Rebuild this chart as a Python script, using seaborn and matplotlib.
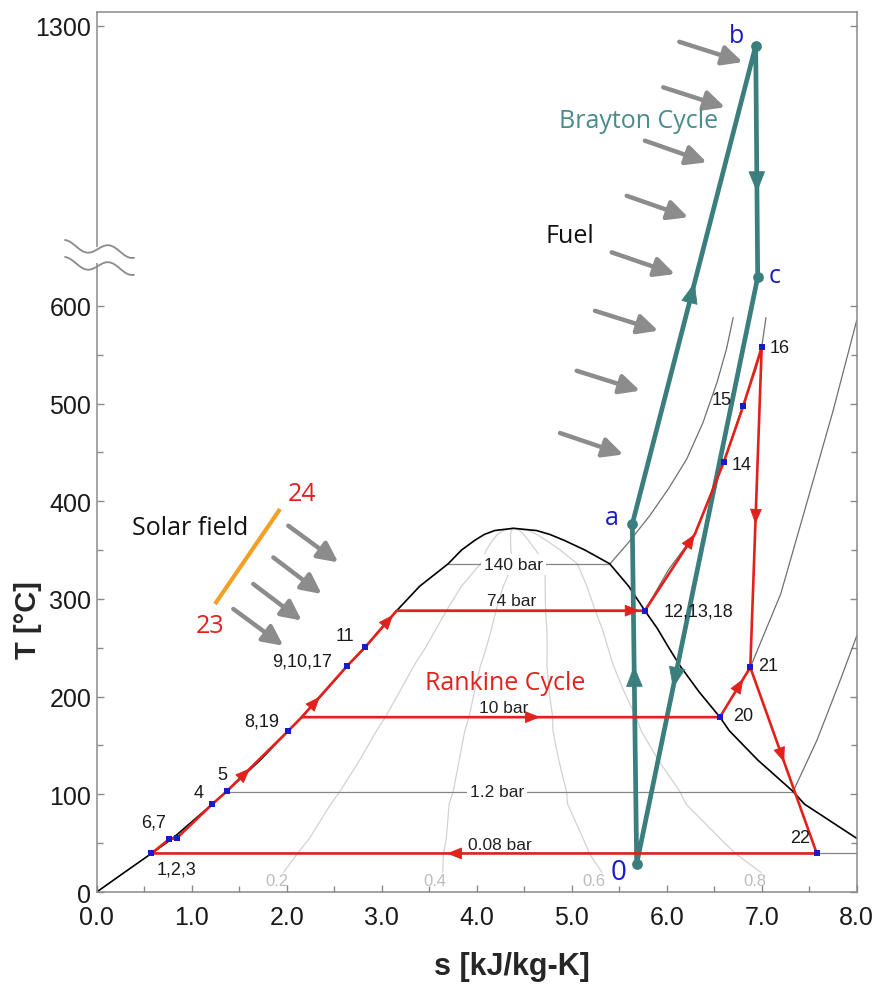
import numpy as np
import matplotlib
matplotlib.use("Agg")
import matplotlib.pyplot as plt
import seaborn as sns

# -----------------------------
# Data (s in kJ/kg-K, T in degC)
# -----------------------------
SAT_T = [0, 20, 39.5, 55, 90, 103, 135, 165, 179, 205, 231.6, 250.4, 270, 288, 313, 336, 350, 360, 366, 370, 372.3]
SAT_SF = [0.0, 0.29, 0.576, 0.80, 1.217, 1.368, 1.72, 2.017, 2.158, 2.40, 2.638, 2.824, 2.996, 3.158, 3.40, 3.70, 3.84, 3.98, 4.08, 4.19, 4.386]
SAT_SG = [9.16, 8.67, 8.26, 8.0, 7.45, 7.33, 6.96, 6.66, 6.56, 6.34, 6.14, 6.02, 5.90, 5.77, 5.60, 5.40, 5.14, 4.92, 4.77, 4.63, 4.386]

QUALITY = [0.2, 0.4, 0.6, 0.8]
QUALITY_LABEL_S = [1.895, 3.56, 5.23, 6.93]

ISO_NAMES = ["140 bar", "74 bar", "10 bar", "1.2 bar", "0.08 bar"]
ISO_T = [335.5, 288, 179, 102.7, 39.5]
ISO_SF = [3.70, 3.158, 2.158, 1.368, 0.576]
ISO_SG = [5.40, 5.77, 6.56, 7.33, 8.26]
ISO_LABEL_S = [4.386, 4.368, 4.28, 4.21, 4.245]
ISO_LABEL_T = [335.5, 298, 189, 102.7, 49]
ISO_INLINE = [True, False, False, True, False]

# superheated isobars
SH_140_S = [5.40, 5.60, 5.82, 6.02, 6.21, 6.38, 6.53, 6.63, 6.70]
SH_140_T = [335.5, 358, 385, 413, 443, 480, 521.7, 556, 588]
SH_74_S = [5.77, 6.02, 6.297, 6.60, 6.80, 6.94, 7.00, 7.045]
SH_74_T = [288, 330, 366.4, 439.8, 497.7, 535, 557.5, 588]
SH_10_S = [6.56, 6.88, 7.20, 7.48, 7.75, 8.0]
SH_10_T = [179, 230, 305, 400, 492, 585]
SH_12_S = [7.33, 7.58, 7.82, 8.0]
SH_12_T = [102.7, 155, 215, 262]

# Rankine cycle path
RK_S = [0.576, 0.764, 0.842, 1.217, 1.368, 2.017, 2.158, 2.638, 2.824, 3.158, 5.77, 6.297, 6.60, 6.807, 7.0, 6.88, 7.58, 0.576]
RK_T = [39.5, 54.2, 55, 90, 103, 165, 179, 231.6, 250.4, 288, 288, 366.4, 439.8, 497.7, 557.5, 230, 39.5, 39.5]
RK_ARROWS = [(4, 0.38), (6, 0.40), (8, 0.886), (9, 0.98), (10, 1.0), (14, 0.552), (15, 0.51), (16, 0.556)]
RK10_S = [2.158, 6.56, 6.88]
RK10_T = [179, 179, 230]
RK10_ARROWS = [(0, 0.57), (1, 0.77)]

MARK_S = [0.576, 0.764, 0.842, 1.217, 1.368, 2.017, 2.638, 2.824, 5.77, 6.60, 6.807, 7.0, 6.56, 6.88, 7.58]
MARK_T = [39.5, 54.2, 55, 90, 103, 165, 231.6, 250.4, 288, 439.8, 497.7, 557.5, 179, 230, 39.5]

STATE_NAMES = ["1,2,3", "6,7", "4", "5", "8,19", "9,10,17", "11", "12,13,18", "14", "15", "16", "20", "21", "22"]
STATE_LABEL_S = [0.842, 0.596, 1.07, 1.32, 1.737, 2.158, 2.61, 6.33, 6.79, 6.58, 7.19, 6.81, 7.07, 7.40]
STATE_LABEL_T = [23.5, 71.3, 102, 120.8, 175.3, 236.7, 262.3, 288, 438, 504.6, 557.5, 181, 231.6, 56]

# Brayton cycle
BR_NAMES = ["0", "a", "b", "c"]
BR_S = [5.684, 5.638, 6.937, 6.958]
BR_T = [28.7, 376.7, 1244, 629.2]
BR_LABEL_S = [5.49, 5.427, 6.737, 7.14]
BR_LABEL_T = [20, 383, 1272, 631]
BR_ARROW_FRAC = [0.583, 0.505, 0.633, 0.70]

# heat input arrows
FUEL_S0 = [6.133, 5.964, 5.771, 5.579, 5.421, 5.245, 5.053, 4.877]
FUEL_T0 = [1255, 1127, 977, 822, 663, 594.9, 533.5, 469.8]
FUEL_S1 = [6.80, 6.614, 6.421, 6.227, 6.087, 5.911, 5.719, 5.543]
FUEL_T1 = [1198, 1071, 916, 761.5, 632.5, 574.5, 513.1, 447.8]

SUN_S0 = [2.017, 1.859, 1.648, 1.438]
SUN_T0 = [374.9, 342.5, 315.3, 289.7]
SUN_S1 = [2.543, 2.368, 2.158, 1.964]
SUN_T1 = [337.4, 305.0, 277.8, 252.1]

SOLAR_S = [1.245, 1.93]
SOLAR_T = [294.8, 392]

RED = "#e3211c"
TEAL = "#3b7e7e"
BLUE = "#1a1acb"
ARROW_GRAY = "#8c8c8c"
ORANGE = "#f2a027"

# -----------------------------
# Broken temperature axis (above 650 degC compressed)
# -----------------------------
T_BREAK = 650.0
K = 0.364


def fwd(t):
    t = np.asarray(t, dtype=float)
    return np.where(t <= T_BREAK, t, T_BREAK + (t - T_BREAK) * K)


def inv(d):
    d = np.asarray(d, dtype=float)
    return np.where(d <= T_BREAK, d, T_BREAK + (d - T_BREAK) / K)


sns.set_style("ticks")
plt.rcParams["font.family"] = ["Liberation Sans", "DejaVu Sans"]

fig, ax = plt.subplots(figsize=(8.8, 9.87), dpi=100)
fig.subplots_adjust(left=0.1099, right=0.9735, bottom=0.0952, top=0.9865)
ax.set_yscale("function", functions=(fwd, inv))


def seg_head(s0, t0, s1, t1, frac, color, size, hl, hw, z):
    d0, d1 = float(fwd(t0)), float(fwd(t1))
    sm = s0 + frac * (s1 - s0)
    dm = d0 + frac * (d1 - d0)
    sb = sm - 0.02 * (s1 - s0)
    db = dm - 0.02 * (d1 - d0)
    ax.annotate("", xy=(sm, float(inv(dm))), xytext=(sb, float(inv(db))),
                arrowprops=dict(arrowstyle=f"-|>,head_length={hl},head_width={hw}",
                                fc=color, ec=color, lw=0.6, shrinkA=0, shrinkB=0,
                                mutation_scale=size), zorder=z)


# -----------------------------
# Quality lines and dome
# -----------------------------
sat_t = np.array(SAT_T)
sf = np.array(SAT_SF)
sg = np.array(SAT_SG)
rows = sat_t >= 20
for q, ls in zip(QUALITY, QUALITY_LABEL_S):
    sq = sf[rows] + q * (sg[rows] - sf[rows])
    ax.plot(sq, sat_t[rows], color="#d2d2d2", lw=0.9, zorder=1)
    ax.text(ls, 12, f"{q:.1f}", color="#bdbdbd", fontsize=12, ha="center", va="center", zorder=1)

dome_s = list(SAT_SF) + list(SAT_SG[::-1])
dome_t = list(SAT_T) + list(SAT_T[::-1])
sns.lineplot(x=dome_s, y=dome_t, sort=False, estimator=None, color="black", linewidth=1.2, ax=ax, zorder=2)

# -----------------------------
# Isobars
# -----------------------------
for name, t, s0, s1, lx, ly, inline in zip(ISO_NAMES, ISO_T, ISO_SF, ISO_SG, ISO_LABEL_S, ISO_LABEL_T, ISO_INLINE):
    ax.plot([s0, s1], [t, t], color="#858585", lw=0.9, zorder=1.5)
    box = dict(facecolor="white", edgecolor="none", pad=2) if inline else None
    ax.text(lx, ly, name, fontsize=12.5, color="#222222", ha="center", va="center", bbox=box, zorder=2.5)

for xs, ys in [(SH_140_S, SH_140_T), (SH_74_S, SH_74_T), (SH_10_S, SH_10_T), (SH_12_S, SH_12_T)]:
    ax.plot(xs, ys, color="#707070", lw=0.9, zorder=1.5)

# -----------------------------
# Brayton cycle
# -----------------------------
br_s = BR_S + BR_S[:1]
br_t = BR_T + BR_T[:1]
sns.lineplot(x=br_s, y=br_t, sort=False, estimator=None, color=TEAL, linewidth=3.4, ax=ax, zorder=3)
ax.scatter(BR_S, BR_T, s=45, color=TEAL, zorder=3.5)
for i, frac in enumerate(BR_ARROW_FRAC):
    seg_head(br_s[i], br_t[i], br_s[i + 1], br_t[i + 1], frac, TEAL, 20, 0.7, 0.28, 3.6)
for name, x, y in zip(BR_NAMES, BR_LABEL_S, BR_LABEL_T):
    ax.text(x, y, name, color=BLUE, fontsize=20 if name == "0" else 18, family="Open Sans",
            ha="center", va="center", zorder=7)

# -----------------------------
# Rankine cycle
# -----------------------------
sns.lineplot(x=RK_S, y=RK_T, sort=False, estimator=None, color=RED, linewidth=1.9, ax=ax, zorder=4)
sns.lineplot(x=RK10_S, y=RK10_T, sort=False, estimator=None, color=RED, linewidth=1.9, ax=ax, zorder=4)
for i, frac in RK_ARROWS:
    seg_head(RK_S[i], RK_T[i], RK_S[i + 1], RK_T[i + 1], frac, RED, 13, 0.75, 0.3, 4.5)
for i, frac in RK10_ARROWS:
    seg_head(RK10_S[i], RK10_T[i], RK10_S[i + 1], RK10_T[i + 1], frac, RED, 13, 0.75, 0.3, 4.5)
sns.scatterplot(x=MARK_S, y=MARK_T, marker="s", s=22, color=BLUE, linewidth=0, ax=ax, zorder=6)
for name, x, y in zip(STATE_NAMES, STATE_LABEL_S, STATE_LABEL_T):
    ax.text(x, y, name, fontsize=13, color="#1a1a1a", ha="center", va="center", zorder=7)

# -----------------------------
# Heat sources
# -----------------------------
for s0, t0, s1, t1 in zip(FUEL_S0 + SUN_S0, FUEL_T0 + SUN_T0, FUEL_S1 + SUN_S1, FUEL_T1 + SUN_T1):
    ax.annotate("", xy=(s1, t1), xytext=(s0, t0),
                arrowprops=dict(arrowstyle="-|>,head_length=0.55,head_width=0.27",
                                color=ARROW_GRAY, lw=3.2, shrinkA=0, shrinkB=0, mutation_scale=22),
                zorder=2)
ax.plot(SOLAR_S, SOLAR_T, color=ORANGE, lw=3, solid_capstyle="butt", zorder=3)

ax.text(1.193, 272.6, "23", color=RED, fontsize=18, family="Open Sans", ha="center", va="center")
ax.text(2.157, 407.4, "24", color=RED, fontsize=18, family="Open Sans", ha="center", va="center")
ax.text(0.982, 373.3, "Solar field", color="#111111", fontsize=18, family="Open Sans", ha="center", va="center")
ax.text(4.98, 710, "Fuel", color="#111111", fontsize=18, family="Open Sans", ha="center", va="center")
ax.text(5.70, 1033, "Brayton Cycle", color="#4a8b8b", fontsize=18, family="Open Sans", ha="center", va="center")
ax.text(4.298, 214.6, "Rankine Cycle", color=RED, fontsize=18, family="Open Sans", ha="center", va="center")

# -----------------------------
# Axes, ticks, break mark
# -----------------------------
ax.set_xlim(0, 8)
ax.set_ylim(0, float(inv(900.4)))
ax.set_xticks(np.arange(0, 8.01, 1.0), labels=[f"{v:.1f}" for v in range(9)])
ax.set_xticks(np.arange(0.5, 8, 1.0), minor=True)
ax.set_yticks([0, 100, 200, 300, 400, 500, 600, 1300], labels=["0", "100", "200", "300", "400", "500", "600", "1300"])
ax.set_yticks([50, 150, 250, 350, 450, 550], minor=True)
ax.tick_params(axis="both", which="both", direction="in", color="#8a8a8a", labelcolor="#1a1a1a", labelsize=18)
ax.tick_params(axis="y", which="both", left=True, right=True, pad=4)
ax.tick_params(axis="x", which="both", bottom=True, top=False, pad=9)
ax.tick_params(which="major", length=5, width=1)
ax.tick_params(which="minor", length=4, width=1)
for sp in ax.spines.values():
    sp.set_color("#8a8a8a")
    sp.set_linewidth(1.1)
ax.set_xlabel("")
ax.set_ylabel("")

ax.text(-0.0904, 0.310, "T [°C]", transform=ax.transAxes, rotation=90, fontsize=21,
        fontweight="bold", ha="center", va="center")
ax.text(0.546, -0.084, "s [kJ/kg-K]", transform=ax.transAxes, fontsize=22,
        fontweight="bold", ha="center", va="center")

# break mark drawn in pixel space on the left spine
W, H = 880.0, 987.0
bx = np.linspace(65, 134, 60)
wave = -5 * np.cos(2 * np.pi * (bx - 65) / 44) + 0.12 * (bx - 65)
fig.patches.append(plt.Rectangle((90 / W, 1 - 264 / H), 14 / W, 16 / H, transform=fig.transFigure,
                                 facecolor="white", edgecolor="none", zorder=10))
for yc in (246, 263):
    fig.add_artist(plt.Line2D(bx / W, 1 - (yc + wave) / H, color="#8a8a8a", lw=1.3,
                              transform=fig.transFigure, zorder=11))

fig.savefig("out.png", dpi=100)
